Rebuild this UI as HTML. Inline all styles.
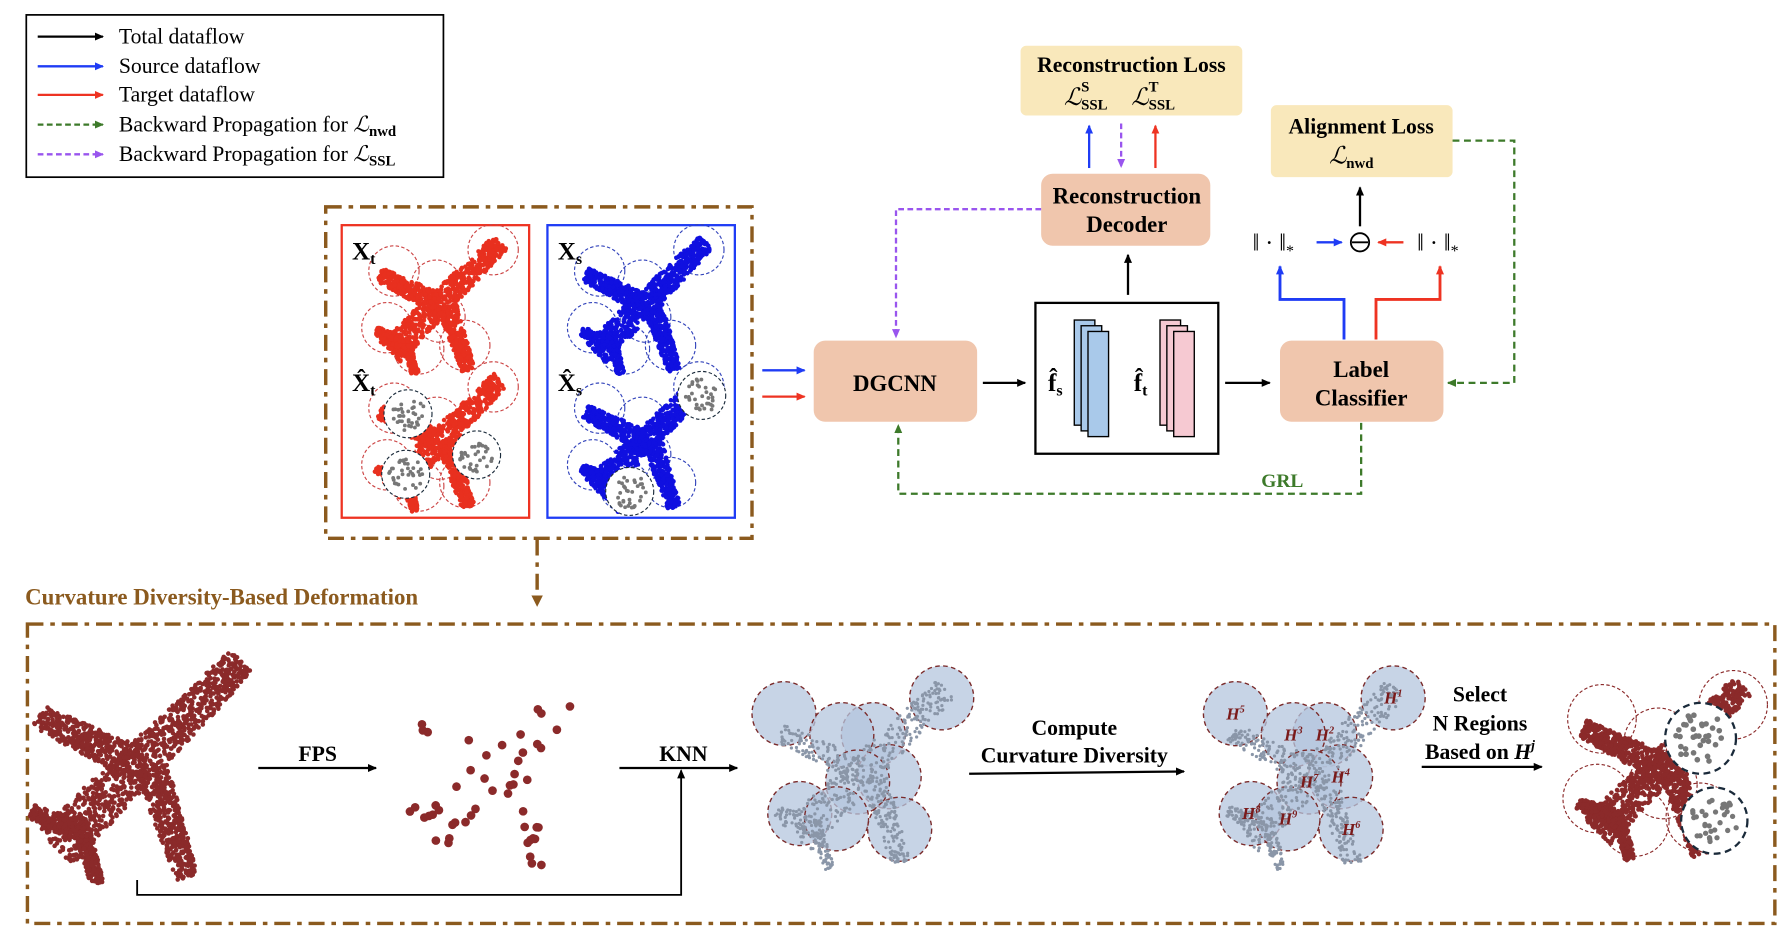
<!DOCTYPE html>
<html><head><meta charset="utf-8">
<style>
html,body{margin:0;padding:0;background:#fff;}
svg{display:block;}
text{font-family:"Liberation Serif",serif;}
</style></head>
<body>
<svg id="s" width="1792" height="938" viewBox="0 0 1568 820.7" xmlns="http://www.w3.org/2000/svg">
<defs>
<marker id="ak" markerWidth="8" markerHeight="8" refX="7" refY="4" orient="auto" markerUnits="userSpaceOnUse"><path d="M0,0.5 L8,4 L0,7.5z" fill="#000"/></marker>
<marker id="ab" markerWidth="8" markerHeight="8" refX="7" refY="4" orient="auto" markerUnits="userSpaceOnUse"><path d="M0,0.5 L8,4 L0,7.5z" fill="#1f3cf5"/></marker>
<marker id="ar" markerWidth="8" markerHeight="8" refX="7" refY="4" orient="auto" markerUnits="userSpaceOnUse"><path d="M0,0.5 L8,4 L0,7.5z" fill="#ee3322"/></marker>
<marker id="ag" markerWidth="8" markerHeight="8" refX="7" refY="4" orient="auto" markerUnits="userSpaceOnUse"><path d="M0,0.5 L8,4 L0,7.5z" fill="#3d7a2a"/></marker>
<marker id="ap" markerWidth="8" markerHeight="8" refX="7" refY="4" orient="auto" markerUnits="userSpaceOnUse"><path d="M0,0.5 L8,4 L0,7.5z" fill="#9955ee"/></marker>
<marker id="ao" markerWidth="10" markerHeight="10" refX="5" refY="9" orient="0" markerUnits="userSpaceOnUse"><path d="M0,0 L10,0 L5,10z" fill="#8b5a1e"/></marker>
</defs>

<rect x="23" y="13" width="365" height="142" fill="#fff" stroke="#000" stroke-width="1.5"/>
<g stroke-width="2" fill="none">
<line x1="33" y1="32" x2="90" y2="32" stroke="#000" marker-end="url(#ak)"/>
<line x1="33" y1="58" x2="90" y2="58" stroke="#1f3cf5" marker-end="url(#ab)"/>
<line x1="33" y1="83" x2="90" y2="83" stroke="#ee3322" marker-end="url(#ar)"/>
<line x1="33" y1="109" x2="90" y2="109" stroke="#3d7a2a" stroke-dasharray="5,3" marker-end="url(#ag)"/>
<line x1="33" y1="135" x2="90" y2="135" stroke="#9955ee" stroke-dasharray="5,3" marker-end="url(#ap)"/>
</g>
<g font-size="19" fill="#000">
<text x="104" y="38">Total dataflow</text>
<text x="104" y="64">Source dataflow</text>
<text x="104" y="89">Target dataflow</text>
<text x="104" y="115">Backward Propagation for <tspan font-style="italic">ℒ</tspan><tspan font-size="13" dy="4" font-weight="bold">nwd</tspan></text>
<text x="104" y="141">Backward Propagation for <tspan font-style="italic">ℒ</tspan><tspan font-size="13" dy="4" font-weight="bold">SSL</tspan></text>
</g>

<rect x="285" y="181" width="373" height="290" fill="none" stroke="#8b5a1e" stroke-width="3" stroke-dasharray="14,6,4,6"/>
<rect x="299" y="197" width="164" height="256" fill="none" stroke="#ee3322" stroke-width="2"/>
<rect x="479" y="197" width="164" height="256" fill="none" stroke="#1f3cf5" stroke-width="2"/>
<g id="planes"></g>
<g font-size="22" font-weight="bold">
<text x="308" y="227">X<tspan font-size="14" dy="4">t</tspan></text>
<text x="308" y="342">X̂<tspan font-size="14" dy="4">t</tspan></text>
<text x="488" y="227">X<tspan font-size="14" dy="4">s</tspan></text>
<text x="488" y="342">X̂<tspan font-size="14" dy="4">s</tspan></text>
</g>

<line x1="470" y1="472" x2="470" y2="530" stroke="#8b5a1e" stroke-width="3" stroke-dasharray="14,6,4,6" marker-end="url(#ao)"/>

<text x="22" y="529" font-size="20" font-weight="bold" fill="#8b5a1e">Curvature Diversity-Based  Deformation</text>
<rect x="24" y="546" width="1529" height="262" fill="none" stroke="#8b5a1e" stroke-width="3" stroke-dasharray="14,6,4,6"/>

<line x1="667" y1="324" x2="704" y2="324" stroke="#1f3cf5" stroke-width="2" marker-end="url(#ab)"/>
<line x1="667" y1="347" x2="704" y2="347" stroke="#ee3322" stroke-width="2" marker-end="url(#ar)"/>

<rect x="712" y="298" width="143" height="71" rx="10" fill="#f0c6ad"/>
<text x="783" y="342" font-size="20" font-weight="bold" text-anchor="middle">DGCNN</text>
<line x1="860" y1="335" x2="897" y2="335" stroke="#000" stroke-width="2" marker-end="url(#ak)"/>
<rect x="906" y="265" width="160" height="132" fill="#fff" stroke="#000" stroke-width="2"/>
<text x="917" y="342" font-size="22" font-weight="bold">f̂<tspan font-size="14" dy="4">s</tspan></text>
<text x="992" y="342" font-size="22" font-weight="bold">f̂<tspan font-size="14" dy="4">t</tspan></text>
<g stroke="#000" stroke-width="1.2">
<rect x="940" y="280" width="18" height="92" fill="#a9c9ea"/>
<rect x="946" y="285" width="18" height="92" fill="#a9c9ea"/>
<rect x="952" y="290" width="18" height="92" fill="#a9c9ea"/>
<rect x="1015" y="280" width="18" height="92" fill="#f6c9d2"/>
<rect x="1021" y="285" width="18" height="92" fill="#f6c9d2"/>
<rect x="1027" y="290" width="18" height="92" fill="#f6c9d2"/>
</g>
<line x1="1072" y1="335" x2="1111" y2="335" stroke="#000" stroke-width="2" marker-end="url(#ak)"/>
<rect x="1120" y="298" width="143" height="71" rx="10" fill="#f0c6ad"/>
<text x="1191" y="330" font-size="20" font-weight="bold" text-anchor="middle">Label</text>
<text x="1191" y="355" font-size="20" font-weight="bold" text-anchor="middle">Classifier</text>

<rect x="911" y="152" width="148" height="63" rx="10" fill="#f0c6ad"/>
<text x="986" y="178" font-size="20" font-weight="bold" text-anchor="middle">Reconstruction</text>
<text x="986" y="203" font-size="20" font-weight="bold" text-anchor="middle">Decoder</text>
<line x1="987" y1="258" x2="987" y2="223" stroke="#000" stroke-width="2" marker-end="url(#ak)"/>

<rect x="893" y="40" width="194" height="61" rx="5" fill="#f9e8bb"/>
<text x="990" y="63" font-size="19" font-weight="bold" text-anchor="middle">Reconstruction Loss</text>
<text x="931" y="92" font-size="21" font-style="italic">ℒ</text><text x="946" y="80" font-size="13" font-weight="bold">S</text><text x="946" y="96" font-size="13" font-weight="bold">SSL</text>
<text x="990" y="92" font-size="21" font-style="italic">ℒ</text><text x="1005" y="80" font-size="13" font-weight="bold">T</text><text x="1005" y="96" font-size="13" font-weight="bold">SSL</text>
<line x1="953" y1="147" x2="953" y2="110" stroke="#1f3cf5" stroke-width="2" marker-end="url(#ab)"/>
<line x1="981" y1="108" x2="981" y2="146" stroke="#9955ee" stroke-width="2" stroke-dasharray="5,3" marker-end="url(#ap)"/>
<line x1="1011" y1="147" x2="1011" y2="110" stroke="#ee3322" stroke-width="2" marker-end="url(#ar)"/>
<polyline points="911,183 784,183 784,295" fill="none" stroke="#9955ee" stroke-width="2" stroke-dasharray="5,3" marker-end="url(#ap)"/>

<rect x="1112" y="92" width="159" height="63" rx="5" fill="#f9e8bb"/>
<text x="1191" y="117" font-size="19" font-weight="bold" text-anchor="middle">Alignment Loss</text>
<text x="1163" y="143" font-size="21" font-style="italic">ℒ</text><text x="1178" y="147" font-size="13" font-weight="bold">nwd</text>

<text x="1096" y="219" font-size="21">‖ · ‖<tspan font-size="14" dy="5">*</tspan></text>
<text x="1240" y="219" font-size="21">‖ · ‖<tspan font-size="14" dy="5">*</tspan></text>
<circle cx="1190" cy="212" r="8" fill="none" stroke="#000" stroke-width="1.6"/>
<line x1="1183" y1="212" x2="1197" y2="212" stroke="#000" stroke-width="1.6"/>
<line x1="1190" y1="198" x2="1190" y2="164" stroke="#000" stroke-width="2" marker-end="url(#ak)"/>
<line x1="1152" y1="212" x2="1174" y2="212" stroke="#1f3cf5" stroke-width="2" marker-end="url(#ab)"/>
<line x1="1228" y1="212" x2="1206" y2="212" stroke="#ee3322" stroke-width="2" marker-end="url(#ar)"/>
<polyline points="1176,297 1176,262 1120,262 1120,233" fill="none" stroke="#1f3cf5" stroke-width="2.5" marker-end="url(#ab)"/>
<polyline points="1204,297 1204,262 1260,262 1260,233" fill="none" stroke="#ee3322" stroke-width="2.5" marker-end="url(#ar)"/>
<polyline points="1271,123 1325,123 1325,335 1267,335" fill="none" stroke="#3d7a2a" stroke-width="2" stroke-dasharray="6,4" marker-end="url(#ag)"/>
<polyline points="1191,370 1191,432 786,432 786,372" fill="none" stroke="#3d7a2a" stroke-width="2" stroke-dasharray="6,4" marker-end="url(#ag)"/>
<text x="1122" y="426" font-size="17" font-weight="bold" fill="#3d7a2a" text-anchor="middle">GRL</text>

<line x1="226" y1="672" x2="329" y2="672" stroke="#000" stroke-width="2" marker-end="url(#ak)"/>
<text x="278" y="666" font-size="19" font-weight="bold" text-anchor="middle">FPS</text>
<line x1="542" y1="672" x2="645" y2="672" stroke="#000" stroke-width="2" marker-end="url(#ak)"/>
<text x="598" y="666" font-size="19" font-weight="bold" text-anchor="middle">KNN</text>
<polyline points="120,770 120,783 596,783 596,674" fill="none" stroke="#000" stroke-width="1.6" marker-end="url(#ak)"/>
<line x1="848" y1="677" x2="1036" y2="675" stroke="#000" stroke-width="2" marker-end="url(#ak)"/>
<text x="940" y="643" font-size="19" font-weight="bold" text-anchor="middle">Compute</text>
<text x="940" y="667" font-size="19" font-weight="bold" text-anchor="middle">Curvature Diversity</text>
<line x1="1244" y1="671" x2="1349" y2="671" stroke="#000" stroke-width="2" marker-end="url(#ak)"/>
<text x="1295" y="614" font-size="19" font-weight="bold" text-anchor="middle">Select</text>
<text x="1295" y="639" font-size="19" font-weight="bold" text-anchor="middle">N Regions</text>
<text x="1295" y="664" font-size="19" font-weight="bold" text-anchor="middle">Based on <tspan font-style="italic">H</tspan><tspan font-size="12" dy="-8" font-style="italic">j</tspan></text>
<g id="bottom"></g>
</svg>
<script>
(function(){
var seed=7;function R(){seed=(seed*16807)%2147483647;return (seed-1)/2147483646;}
var NS="http://www.w3.org/2000/svg";
function el(p,t,a){var e=document.createElementNS(NS,t);for(var k in a)e.setAttribute(k,a[k]);p.appendChild(e);return e;}
var segs=[[-0.7,0.7,0.85,-0.85,0.2],[-0.05,0.0,-0.85,-0.4,0.15],[0.1,0.05,0.4,0.95,0.14],[-0.55,0.55,-0.9,0.4,0.09],[-0.5,0.5,-0.35,1.0,0.08]];
function planePts(n){var pts=[];var lens=segs.map(function(s){return Math.hypot(s[2]-s[0],s[3]-s[1]);});var tot=lens.reduce(function(a,b){return a+b;});
for(var i=0;i<n;i++){var r=R()*tot,j=0;while(r>lens[j]&&j<segs.length-1){r-=lens[j];j++;}var s=segs[j],t=R();var w=s[4]*(1-0.35*t)*(R()-0.5)*2;var dx=s[2]-s[0],dy=s[3]-s[1],L=lens[j];pts.push([s[0]+dx*t-dy/L*w,s[1]+dy*t+dx/L*w]);}return pts;}
function plane(g,cx,cy,sc,col,n,r){planePts(n).forEach(function(p){el(g,"circle",{cx:cx+p[0]*sc,cy:cy+p[1]*sc,r:r,fill:col});});}
function grayBall(g,cx,cy,rad,dash,sw){el(g,"circle",{cx:cx,cy:cy,r:rad,fill:"#fff",stroke:"#1a2a3a","stroke-width":sw,"stroke-dasharray":dash});for(var i=0;i<34;i++){var a=R()*6.28,d=Math.sqrt(R())*rad*0.72;el(g,"circle",{cx:cx+Math.cos(a)*d,cy:cy+Math.sin(a)*d,r:rad*0.08,fill:"#777"});}}
function rings(g,cx,cy,sc,col,list,rad){list.forEach(function(c){el(g,"circle",{cx:cx+c[0]*sc,cy:cy+c[1]*sc,r:rad,fill:"none",stroke:col,"stroke-width":1,"stroke-dasharray":"3,2"});});}
var ringPos=[[-0.65,-0.45],[0.75,-0.75],[-0.05,-0.25],[-0.75,0.35],[0.0,0.2],[-0.3,0.65],[0.35,0.6]];
var g=document.getElementById("planes");
[[385,265,"#e8301f","#c44"],[565,265,"#1010e0","#3344bb"],[385,385,"#e8301f","#c44"],[565,385,"#1010e0","#3344bb"]].forEach(function(q){rings(g,q[0],q[1],62,q[3],ringPos,22);plane(g,q[0],q[1],62,q[2],1400,2);});
grayBall(g,357,362,21,"3,2",1);grayBall(g,355,415,21,"3,2",1);grayBall(g,417,398,21,"3,2",1);
grayBall(g,614,346,21,"3,2",1);grayBall(g,551,430,21,"3,2",1);
var b=document.getElementById("bottom");
plane(b,122,668,105,"#8b2a2a",2200,2);
planePts(50).forEach(function(p){el(b,"circle",{cx:438+p[0]*90,cy:672+p[1]*90,r:3.8,fill:"#8b2a2a"});});
var cl=[[-0.75,-0.55],[0.75,-0.7],[0.1,-0.35],[-0.2,-0.35],[0.25,0.05],[-0.05,0.1],[-0.6,0.4],[-0.25,0.45],[0.35,0.55]];
function cluster(cx,cy,labels){cl.forEach(function(c,i){el(b,"circle",{cx:cx+c[0]*92,cy:cy+c[1]*92,r:28,fill:"#b4c6de","fill-opacity":0.75,stroke:"#7a2a2a","stroke-width":1.2,"stroke-dasharray":"4,3"});});
planePts(700).forEach(function(p){el(b,"circle",{cx:cx+p[0]*85,cy:cy+p[1]*85,r:1.4,fill:"#8a96a8"});});
if(labels)labels.forEach(function(L,i){var t=el(b,"text",{x:cx+cl[L[1]][0]*92-8,y:cy+cl[L[1]][1]*92+5,"font-size":15,"font-weight":"bold","font-style":"italic",fill:"#7a1a1a"});t.textContent="H";var s=el(t,"tspan",{dy:-6,"font-size":9});s.textContent=L[0];});}
cluster(755,675,null);
cluster(1150,675,[["5",0],["1",1],["3",3],["2",2],["4",4],["7",5],["8",6],["9",7],["6",8]]);
rings(b,1455,670,82,"#8b2a2a",[[-0.65,-0.5],[0.75,-0.65],[-0.05,-0.25],[-0.7,0.35],[0.0,0.2],[-0.3,0.6],[0.4,0.55]],30);
plane(b,1455,670,82,"#8b2a2a",2000,2);
grayBall(b,1488,646,31,"6,4",2);grayBall(b,1500,718,29,"6,4",2);
})();
</script>
</body></html>
